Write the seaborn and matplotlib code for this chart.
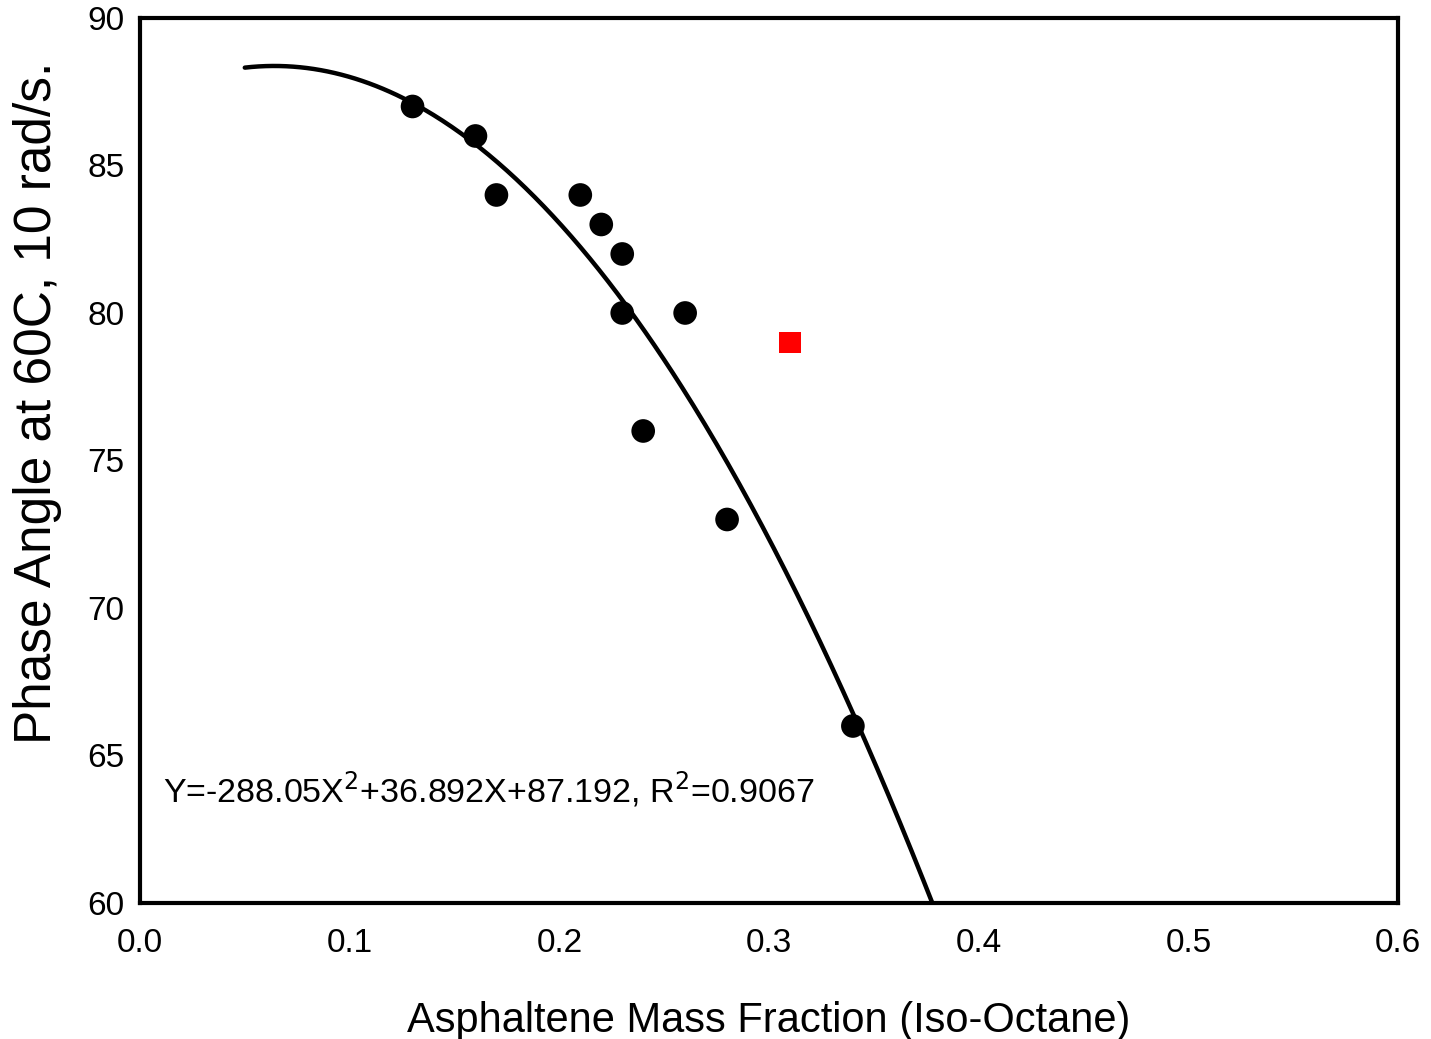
import numpy as np
import pandas as pd
import matplotlib
matplotlib.use("Agg")
import matplotlib.pyplot as plt
import seaborn as sns

# Data
asph_frac = [0.13, 0.16, 0.17, 0.21, 0.22, 0.23, 0.23, 0.26, 0.24, 0.28, 0.34]
phase_angle = [87, 86, 84, 84, 83, 82, 80, 80, 76, 73, 66]
outlier_x = [0.31]
outlier_y = [79]
# Fitted curve coefficients as printed on chart
fit_coefs = [-288.05, 36.892, 87.192]
fit_range = [0.05, 0.378]
x_ticks = [0.0, 0.1, 0.2, 0.3, 0.4, 0.5, 0.6]
y_ticks = [60, 65, 70, 75, 80, 85, 90]

sns.set_theme(style="white")
plt.rcParams['font.family'] = ['Liberation Sans', 'DejaVu Sans']
plt.rcParams['text.color'] = 'black'
plt.rcParams['axes.labelcolor'] = 'black'

fig = plt.figure(figsize=(14.31, 10.39), dpi=100)
ax = fig.add_axes([0.0978, 0.1309, 0.8792, 0.8518])

xf = np.linspace(fit_range[0], fit_range[1], 300)
fit_df = pd.DataFrame({"x": xf, "y": np.polyval(fit_coefs, xf)})
sns.lineplot(data=fit_df, x="x", y="y", ax=ax, color="black", linewidth=3.2)

pts = pd.DataFrame({"x": asph_frac, "y": phase_angle})
sns.scatterplot(data=pts, x="x", y="y", ax=ax, color="black", s=290,
                edgecolor="none", zorder=3)
out = pd.DataFrame({"x": outlier_x, "y": outlier_y})
sns.scatterplot(data=out, x="x", y="y", ax=ax, color="red", marker="s",
                s=230, edgecolor="none", zorder=3)

ax.set_xlim(0, 0.6)
ax.set_ylim(60, 90)
ax.set_xticks(x_ticks)
ax.set_xticklabels([f"{t:.1f}" for t in x_ticks])
ax.set_yticks(y_ticks)
ax.set_yticklabels([str(t) for t in y_ticks])
ax.tick_params(direction="in", length=11, width=2, labelsize=24,
               colors="black")
ax.tick_params(axis="x", pad=18)
ax.tick_params(axis="y", pad=11)
for s in ax.spines.values():
    s.set_linewidth(3)
    s.set_color("black")

ax.set_xlabel("Asphaltene Mass Fraction (Iso-Octane)", fontsize=30, labelpad=30)
ax.set_ylabel("Phase Angle at 60C, 10 rad/s.", fontsize=37, labelpad=20)
ax.yaxis.set_label_coords(-0.062, 0.565)

ax.text(0.011, 63.85, r"Y=-288.05X$^2$+36.892X+87.192, R$^2$=0.9067",
        fontsize=24.5, ha="left", va="center")

fig.savefig("out.png", dpi=100)
